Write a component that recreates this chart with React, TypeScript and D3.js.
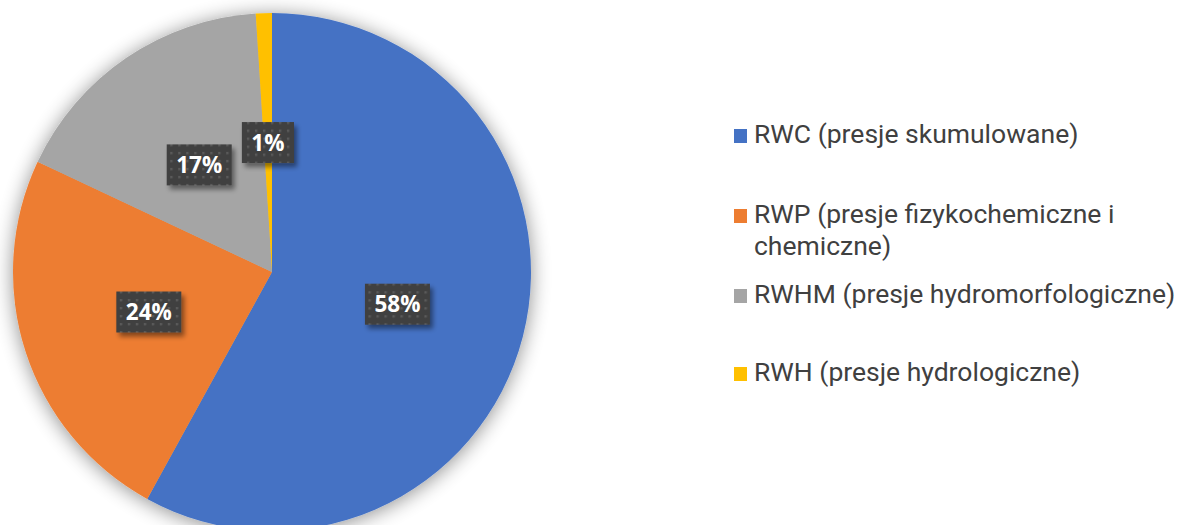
import React, { useEffect, useRef } from "react";
import * as d3 from "d3";

const categories = ["RWC", "RWP", "RWHM", "RWH"];
const legendLines = [
  ["RWC (presje skumulowane)"],
  ["RWP (presje fizykochemiczne i", "chemiczne)"],
  ["RWHM (presje hydromorfologiczne)"],
  ["RWH (presje hydrologiczne)"],
];
const values = [58, 24, 17, 1];
const colors = ["#4472C4", "#ED7D31", "#A5A5A5", "#FFC000"];

const W = 1180;
const H = 525;

export default function App() {
  const ref = useRef<SVGSVGElement>(null);

  useEffect(() => {
    const svg = d3.select(ref.current);
    svg.selectAll("*").remove();

    const defs = svg.append("defs");
    const pieShadow = defs.append("filter").attr("id", "pieShadow")
      .attr("x", "-20%").attr("y", "-20%").attr("width", "140%").attr("height", "140%");
    pieShadow.append("feGaussianBlur").attr("in", "SourceAlpha").attr("stdDeviation", 10).attr("result", "b");
    pieShadow.append("feOffset").attr("in", "b").attr("dx", 0).attr("dy", 2).attr("result", "o");
    pieShadow.append("feComponentTransfer").attr("in", "o").attr("result", "s")
      .append("feFuncA").attr("type", "linear").attr("slope", 0.45);
    const m1 = pieShadow.append("feMerge");
    m1.append("feMergeNode").attr("in", "s");
    m1.append("feMergeNode").attr("in", "SourceGraphic");

    const boxShadow = defs.append("filter").attr("id", "boxShadow")
      .attr("x", "-30%").attr("y", "-30%").attr("width", "170%").attr("height", "180%");
    boxShadow.append("feGaussianBlur").attr("in", "SourceAlpha").attr("stdDeviation", 2.5).attr("result", "b");
    boxShadow.append("feOffset").attr("in", "b").attr("dx", 3).attr("dy", 4).attr("result", "o");
    boxShadow.append("feComponentTransfer").attr("in", "o").attr("result", "s")
      .append("feFuncA").attr("type", "linear").attr("slope", 0.45);
    const m2 = boxShadow.append("feMerge");
    m2.append("feMergeNode").attr("in", "s");
    m2.append("feMergeNode").attr("in", "SourceGraphic");

    const pat = defs.append("pattern").attr("id", "dots")
      .attr("patternUnits", "userSpaceOnUse").attr("width", 8).attr("height", 8);
    pat.append("rect").attr("width", 8).attr("height", 8).attr("fill", "#404040");
    pat.append("rect").attr("x", 3).attr("y", 3).attr("width", 2.4).attr("height", 2.4).attr("fill", "#5a5a5a");

    const cx = 272, cy = 272, r = 259;
    const pie = d3.pie<number>().sort(null).value((d) => d);
    const arcs = pie(values);
    const arc = d3.arc<d3.PieArcDatum<number>>().innerRadius(0).outerRadius(r);

    const g = svg.append("g").attr("transform", `translate(${cx},${cy})`);
    const slices = g.append("g").attr("filter", "url(#pieShadow)");
    slices.selectAll("path").data(arcs).enter().append("path")
      .attr("d", arc as any)
      .attr("fill", (_d, i) => colors[i]);

    const labels = g.append("g");
    arcs.forEach((a, i) => {
      const [x, y] = arc.centroid(a);
      const lg = labels.append("g").attr("transform", `translate(${x},${y})`);
      const rect = lg.append("rect").attr("fill", "url(#dots)").attr("filter", "url(#boxShadow)");
      const t = lg.append("text")
        .attr("text-anchor", "middle").attr("dy", "0.36em")
        .attr("font-family", "'Open Sans', sans-serif").attr("font-weight", 700)
        .attr("font-size", 22.5).attr("fill", "#ffffff")
        .text(`${values[i]}%`);
      const tw = (t.node() as SVGTextElement).getComputedTextLength();
      const bw = tw + 19, bh = 41;
      rect.attr("x", -bw / 2).attr("y", -bh / 2).attr("width", bw).attr("height", bh);
    });

    const legend = svg.append("g");
    const baselines = [143, 223, 303, 381];
    categories.forEach((c, i) => {
      const lg = legend.append("g").attr("class", `legend-${c}`);
      lg.append("rect").attr("x", 734).attr("y", baselines[i] - 14)
        .attr("width", 13).attr("height", 14).attr("fill", colors[i]);
      const t = lg.append("text").attr("x", 754).attr("y", baselines[i])
        .attr("font-family", "Roboto, sans-serif").attr("font-size", 26.5).attr("fill", "#404040");
      legendLines[i].forEach((ln, j) => {
        t.append("tspan").attr("x", 754).attr("dy", j === 0 ? 0 : 31.5).text(ln);
      });
    });
  }, []);

  return (
    <svg ref={ref} width={W} height={H}
      style={{ position: "absolute", left: 0, top: 0, background: "#ffffff" }} />
  );
}
